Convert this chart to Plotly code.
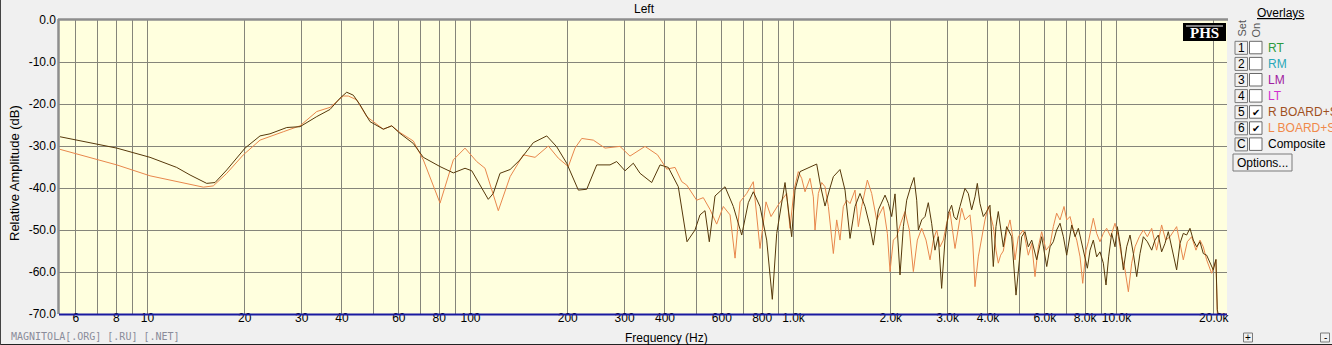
import plotly.graph_objects as go
import math

# ---------------- data ----------------
r_board_freq = [5.36, 8.03, 10.18, 12.31, 13.54, 15.25, 16.18, 17.59, 20.04, 22.30, 23.94, 26.98, 29.66,
                33.41, 36.73, 39.45, 41.37, 43.36, 45.49, 48.85, 53.70, 57.02, 60.49, 66.51, 71.43, 80.47,
                88.47, 96.16, 100.9, 113.5, 117.6, 123.4, 132.6, 142.3, 156.5, 172.2, 184.9, 198.5, 215.7,
                229.0, 245.9, 270.3, 283.5, 300.8, 319.2, 334.8, 363.9, 386.1, 409.7, 439.9, 468.0, 495.5,
                513.4, 532.1, 548.7, 571.4, 613.7, 651.1, 691.3, 724.6, 750.8, 787.6, 826.0, 859.8, 887.2,
                941.3, 987.2,
                1010.7, 1047.4, 1111.6, 1179.7, 1213.8, 1251.9, 1291.3, 1328.5, 1393.1, 1443.7, 1496.1, 1550.4,
                1606.5, 1664.8, 1725.2, 1766.7, 1831.2, 1920.4, 1966.5, 2013.8, 2062.2, 2137.0, 2188.4, 2241.0,
                2305.8, 2361.2, 2406.6, 2435.3, 2494.0, 2553.7, 2614.3, 2677.4, 2741.7, 2807.6, 2874.8, 2944.0,
                3014.7, 3087.1, 3139.2, 3199.5, 3276.6, 3395.4, 3477.0, 3560.7, 3646.7, 3707.6, 3779.0, 3869.2,
                3962.2, 4057.5, 4155.0, 4235.0, 4306.0, 4378.3, 4462.3,
                4569, 4736, 4885, 5003, 5087, 5209, 5333, 5464, 5662, 5867, 6081, 6227, 6373, 6527, 6686, 6847,
                7012, 7267, 7442, 7621, 7860, 8126, 8282, 8477, 8681, 8890, 9104, 9279, 9456, 9661, 9894, 10060,
                10301, 10499, 10754, 11013, 11277, 11549, 11826, 12110, 12461, 12852, 13154, 13471, 13796,
                14127, 14467, 14815, 15353, 15723, 16101, 16488, 16884, 17290, 17706, 18131, 18567, 19013,
                19470, 19937, 20320, 20514, 20650]
r_board_db = [-27.8, -30.5, -32.7, -35.1, -36.9, -38.9, -38.7, -35.7, -30.5, -27.6, -27.1, -25.6, -25.4,
              -23.0, -21.3, -18.6, -17.2, -17.9, -20.2, -24.2, -26.0, -25.2, -27.0, -29.4, -32.7, -34.9,
              -36.4, -35.3, -35.9, -42.7, -41.3, -36.5, -35.6, -33.3, -29.2, -27.6, -30.2, -34.1, -40.5,
              -40.3, -34.5, -34.5, -33.7, -35.9, -34.1, -36.5, -38.7, -34.5, -35.1, -39.7, -52.8, -50.0,
              -46.4, -45.4, -52.8, -41.9, -39.7, -44.4, -51.2, -43.5, -40.9, -44.4, -52.4, -66.5, -50.8,
              -38.7, -51.6,
              -40.5, -36.1, -35.1, -34.3, -39.7, -44.3, -40.5, -37.3, -35.6, -40.5, -52.0, -44.4,
              -41.3, -44.4, -49.2, -53.6, -45.2, -41.7, -43.7, -46.8, -41.4, -60.7, -49.2, -42.9,
              -39.7, -37.5, -42.9, -50.0, -47.6, -46.8, -43.5, -48.4, -54.8, -51.6, -63.9, -52.4,
              -46.0, -44.1, -46.8, -47.6, -44.4, -40.1, -41.3, -45.2, -42.1, -38.9, -43.7, -46.8,
              -45.6, -44.1, -58.7, -49.2, -45.6, -50.0, -54.0,
              -49.2, -51.6, -65.5, -56.4, -51.6, -50.4, -54.0, -52.4, -57.1, -51.6, -58.7, -54.0, -52.8, -50.0, -48.4, -51.6,
              -56.0, -48.8, -51.6, -49.6, -54.0, -59.1, -54.8, -52.4, -56.4, -55.2, -57.9, -63.1, -56.4, -50.8, -54.0, -49.2,
              -54.0, -59.5, -54.0, -51.2, -55.6, -61.1, -55.6, -51.6, -52.8, -54.8, -52.4, -51.2, -55.2,
              -53.2, -50.4, -54.0, -59.5, -53.2, -50.8, -51.2, -49.6, -52.4, -54.0, -52.8, -55.6, -56.0,
              -57.9, -59.5, -57.0, -69.0, -70.0]

l_board_freq = [5.36, 8.03, 10.18, 12.91, 14.89, 15.98, 17.59, 19.80, 22.30, 26.33, 29.66, 33.41, 36.73,
                40.39, 41.85, 44.43, 47.71, 53.70, 57.02, 60.49, 66.51, 71.43, 80.47, 88.47, 96.16, 104.5,
                110.9, 121.9, 132.6, 145.7, 158.4, 174.1, 187.0, 200.8, 210.6, 221.0, 240.0, 260.9, 290.2,
                311.7, 346.9, 379.3, 405.0, 429.8, 450.8, 467.0, 501.4, 525.7, 551.4, 578.3, 606.3, 636.1,
                659.2, 682.9, 716.3, 750.8, 772.5, 787.6, 822.0, 851.8, 897.3, 952.6,
                975.4, 1003.6, 1035.0, 1059.9, 1085.4, 1124.8, 1151.9, 1165.6, 1193.8, 1222.5, 1251.9, 1282.1,
                1328.5, 1360.5, 1393.1, 1426.7, 1461.0, 1496.1, 1550.4, 1587.7, 1625.9, 1692.9, 1746.0, 1809.3,
                1852.8, 1897.4, 1952.3, 1989.8, 2037.6, 2086.6, 2147.0, 2214.5, 2283.9, 2349.9, 2417.8, 2494.0,
                2572.0, 2646.4, 2710.0, 2775.2, 2841.9, 2910.2, 2980.1, 3051.8, 3162.3, 3237.9, 3315.8, 3395.4,
                3518.6, 3586.1, 3646.7, 3734.3, 3824.0, 3915.5, 4009.6, 4086.8, 4155.0, 4235.0, 4306.0, 4378.3,
                4462.3, 4569.0,
                4680, 4770, 4850, 4967, 5147, 5246, 5333, 5464, 5593, 5728, 5867, 6052, 6227, 6373, 6527, 6686,
                6879, 7012, 7180, 7354, 7531, 7712, 7860, 8049, 8184, 8477, 8681, 8890, 9104, 9323, 9592, 9894,
                10132, 10375, 10627, 10883, 11144, 11412, 11769, 12110, 12461, 12852, 13312, 13796, 14195,
                14640, 14992, 15353, 15723, 16101, 16566, 17086, 17622, 18131, 18567, 19013, 19702, 20320,
                20514, 20550, 21985]
l_board_db = [-30.8, -34.5, -37.1, -38.9, -39.8, -39.5, -36.5, -32.1, -28.6, -26.6, -25.2, -21.8, -20.8,
              -18.1, -18.1, -19.0, -23.0, -26.0, -25.2, -26.8, -28.8, -33.3, -43.6, -33.3, -30.5, -33.7,
              -35.3, -45.4, -37.3, -32.1, -32.7, -30.0, -32.9, -34.9, -30.5, -28.2, -28.6, -30.5, -30.1,
              -32.4, -30.1, -32.1, -35.5, -35.1, -38.5, -39.3, -42.9, -42.3, -45.1, -48.6, -44.4, -46.4,
              -56.7, -43.3, -41.3, -38.5, -47.6, -54.4, -43.3, -46.8, -44.0, -41.3,
              -49.6, -40.5, -36.1, -37.7, -40.9, -37.7, -42.1, -50.0, -41.3, -38.7, -39.7, -44.4,
              -55.6, -47.6, -52.4, -44.4, -42.9, -43.7, -40.5, -49.2, -44.4, -38.1, -41.3, -47.6,
              -46.0, -44.4, -50.8, -59.9, -52.4, -51.6, -48.4, -45.6, -50.0, -59.9, -52.4, -49.6,
              -52.4, -57.1, -52.4, -50.0, -54.0, -52.4, -48.4, -45.6, -54.4, -49.2, -44.8, -47.6,
              -46.4, -52.4, -63.5, -56.4, -51.6, -47.6, -44.4, -46.8, -49.2, -54.8, -57.9, -56.0,
              -55.0, -50.5,
              -47.6, -51.6, -57.1, -51.6, -50.0, -53.2, -56.0, -53.2, -61.1, -54.0, -50.4, -54.8, -53.6, -49.2, -46.0, -47.6,
              -44.4, -47.6, -46.8, -50.0, -52.4, -56.4, -62.7, -54.8, -52.8, -47.2, -50.8, -52.8, -50.8, -49.6, -51.6, -48.4,
              -51.6, -56.4, -59.5, -64.7, -57.9, -54.0, -51.6, -50.0, -51.6, -49.6, -54.8, -48.8, -52.4,
              -51.6, -50.4, -49.2, -53.2, -57.1, -52.8, -51.6, -54.8, -52.4, -54.0, -57.1, -60.3, -57.1,
              -69.8, -70.0, -70.0]

x_tick_vals = [6, 7, 8, 9, 10, 20, 30, 40, 50, 60, 70, 80, 90, 100, 200, 300, 400, 500, 600, 700, 800, 900,
               1000, 2000, 3000, 4000, 5000, 6000, 7000, 8000, 9000, 10000, 20000]
x_tick_text = ["6", "", "8", "", "10", "20", "30", "40", "", "60", "", "80", "", "100", "200", "300", "400",
               "", "600", "", "800", "", "1.0k", "2.0k", "3.0k", "4.0k", "", "6.0k", "", "8.0k", "", "10.0k",
               "20.0k"]
y_tick_vals = [0, -10, -20, -30, -40, -50, -60, -70]
y_tick_text = ["0.0", "-10.0", "-20.0", "-30.0", "-40.0", "-50.0", "-60.0", "-70.0"]

overlay_sets = ["1", "2", "3", "4", "5", "6", "C"]
overlay_names = ["RT", "RM", "LM", "LT", "R BOARD+S", "L BOARD+S", "Composite"]
overlay_on = [False, False, False, False, True, True, False]
overlay_colors = ["#2e9a3e", "#2aa8b8", "#a020a0", "#d030d0", "#a0501e", "#f0894a", "#000000"]

# ---------------- layout helpers ----------------
W, H = 1332, 345
L, R, T, B = 59, 1227, 20, 314
FONT = "Liberation Sans, Arial, sans-serif"


def px(x):
    return (x - L) / (R - L)


def py(y):
    return (B - y) / (B - T)


DARK = "#56380a"
ORANGE = "#e8874c"

fig = go.Figure()
fig.add_trace(go.Scatter(x=l_board_freq, y=l_board_db, mode="lines",
                         line=dict(color=ORANGE, width=1), hoverinfo="skip"))
fig.add_trace(go.Scatter(x=r_board_freq, y=r_board_db, mode="lines",
                         line=dict(color=DARK, width=1), hoverinfo="skip"))

shapes = []
annotations = []

# plot frame
shapes.append(dict(type="line", xref="paper", yref="paper", x0=px(L - 1), x1=px(R + 1), y0=py(T - 0.5), y1=py(T - 0.5),
                   line=dict(color="#8e8e8e", width=2.5)))
shapes.append(dict(type="line", xref="paper", yref="paper", x0=px(L - 0.5), x1=px(L - 0.5), y0=py(T - 1), y1=py(B),
                   line=dict(color="#8e8e8e", width=2.5)))
shapes.append(dict(type="line", xref="paper", yref="paper", x0=px(L), x1=px(R), y0=py(B + 0.5), y1=py(B + 0.5),
                   line=dict(color="#1a1aa0", width=2)))
# outer window frame
shapes.append(dict(type="line", xref="paper", yref="paper", x0=px(0), x1=px(W), y0=py(344.5), y1=py(344.5),
                   line=dict(color="#222222", width=1)))
shapes.append(dict(type="line", xref="paper", yref="paper", x0=px(0.5), x1=px(0.5), y0=py(0), y1=py(345),
                   line=dict(color="#444444", width=1)))

# titles
annotations.append(dict(text="Left", x=px(644), y=py(9), xref="paper", yref="paper", showarrow=False,
                        xanchor="center", yanchor="middle", font=dict(family=FONT, size=12, color="#000")))
annotations.append(dict(text="Frequency (Hz)", x=px(666), y=py(337.5), xref="paper", yref="paper", showarrow=False,
                        xanchor="center", yanchor="middle", font=dict(family=FONT, size=12, color="#000")))
annotations.append(dict(text="Relative Amplitude (dB)", x=px(14), y=py(173), xref="paper", yref="paper",
                        showarrow=False, textangle=-90, xanchor="center", yanchor="middle",
                        font=dict(family=FONT, size=13, color="#000")))
annotations.append(dict(text="MAGNITOLA[.ORG] [.RU] [.NET]", x=px(9), y=py(336.5), xref="paper", yref="paper",
                        showarrow=False, xanchor="left", yanchor="middle",
                        font=dict(family="DejaVu Sans Mono, monospace", size=10, color="#8a8c9a")))

# PHS badge
shapes.append(dict(type="rect", xref="paper", yref="paper", x0=px(1183), x1=px(1226), y0=py(41), y1=py(23),
                   fillcolor="#000000", line=dict(width=0)))
shapes.append(dict(type="line", xref="paper", yref="paper", x0=px(1186), x1=px(1223), y0=py(26), y1=py(26),
                   line=dict(color="#ffffff", width=1)))
annotations.append(dict(text="<b>PHS</b>", x=px(1204.5), y=py(33), xref="paper", yref="paper", showarrow=False,
                        xanchor="center", yanchor="middle",
                        font=dict(family="Liberation Serif, Times New Roman, serif", size=15, color="#ffffff")))

# overlay panel
annotations.append(dict(text="<u>Overlays</u>", x=px(1280), y=py(12.5), xref="paper", yref="paper",
                        showarrow=False, xanchor="center", yanchor="middle",
                        font=dict(family=FONT, size=12, color="#000")))
annotations.append(dict(text="Set", x=px(1242), y=py(28.5), xref="paper", yref="paper", showarrow=False,
                        textangle=-90, xanchor="center", yanchor="middle",
                        font=dict(family=FONT, size=11, color="#555")))
annotations.append(dict(text="On", x=px(1256), y=py(30.5), xref="paper", yref="paper", showarrow=False,
                        textangle=-90, xanchor="center", yanchor="middle",
                        font=dict(family=FONT, size=11, color="#555")))

row0, drow = 47.8, 16.1
for i, (s, name, on, col) in enumerate(zip(overlay_sets, overlay_names, overlay_on, overlay_colors)):
    yc = row0 + i * drow
    shapes.append(dict(type="rect", xref="paper", yref="paper", x0=px(1235), x1=px(1247.5), y0=py(yc + 6.5),
                       y1=py(yc - 6.5), fillcolor="#f0f0f0", line=dict(color="#7a7a7a", width=1)))
    annotations.append(dict(text=s, x=px(1241.5), y=py(yc), xref="paper", yref="paper", showarrow=False,
                            xanchor="center", yanchor="middle", font=dict(family=FONT, size=12, color="#000")))
    shapes.append(dict(type="rect", xref="paper", yref="paper", x0=px(1249.5), x1=px(1262), y0=py(yc + 6),
                       y1=py(yc - 6.5), fillcolor="#ffffff", line=dict(color="#6a6a6a", width=1)))
    if on:
        annotations.append(dict(text="✔", x=px(1255.8), y=py(yc), xref="paper", yref="paper", showarrow=False,
                                xanchor="center", yanchor="middle",
                                font=dict(family="DejaVu Sans, sans-serif", size=10, color="#000")))
    annotations.append(dict(text=name, x=px(1266), y=py(yc), xref="paper", yref="paper", showarrow=False,
                            xanchor="left", yanchor="middle", font=dict(family=FONT, size=12, color=col)))

# options button
shapes.append(dict(type="rect", xref="paper", yref="paper", x0=px(1233), x1=px(1292), y0=py(171), y1=py(154),
                   fillcolor="#f0f0f0", line=dict(color="#7a7a7a", width=1)))
annotations.append(dict(text="Options...", x=px(1262.5), y=py(162.5), xref="paper", yref="paper",
                        showarrow=False, xanchor="center", yanchor="middle",
                        font=dict(family=FONT, size=12, color="#000")))

# small +/- buttons
for xc, sym in ((1248, "+"), (1325, "-")):
    shapes.append(dict(type="rect", xref="paper", yref="paper", x0=px(xc - 4.5), x1=px(xc + 4.5), y0=py(342),
                       y1=py(333), fillcolor="#f0f0f0", line=dict(color="#7a7a7a", width=1)))
    annotations.append(dict(text=sym, x=px(xc), y=py(337.5), xref="paper", yref="paper", showarrow=False,
                            xanchor="center", yanchor="middle", font=dict(family=FONT, size=10, color="#000")))

fig.update_layout(
    width=W, height=H,
    margin=dict(l=L, r=W - R, t=T, b=H - B, pad=0),
    paper_bgcolor="#f0f0f0",
    plot_bgcolor="#ffffde",
    showlegend=False,
    shapes=shapes,
    annotations=annotations,
    font=dict(family=FONT, size=12, color="#000"),
    xaxis=dict(type="log", range=[math.log10(5.32), math.log10(21985)], tickvals=x_tick_vals,
               ticktext=x_tick_text, showgrid=True, gridcolor="#85857a", gridwidth=1, zeroline=False,
               showline=False, ticks="", ticklabelstandoff=-5,
               tickfont=dict(family=FONT, size=12, color="#000")),
    yaxis=dict(range=[-70, 0], tickvals=y_tick_vals, ticktext=y_tick_text, showgrid=True,
               gridcolor="#85857a", gridwidth=1, zeroline=False, showline=False, ticks="",
               ticklabelstandoff=2, tickfont=dict(family=FONT, size=12, color="#000")),
)

fig.write_html("out.html", config={"displayModeBar": False},
               post_script="document.body.style.margin='0';document.body.style.overflow='hidden';")
